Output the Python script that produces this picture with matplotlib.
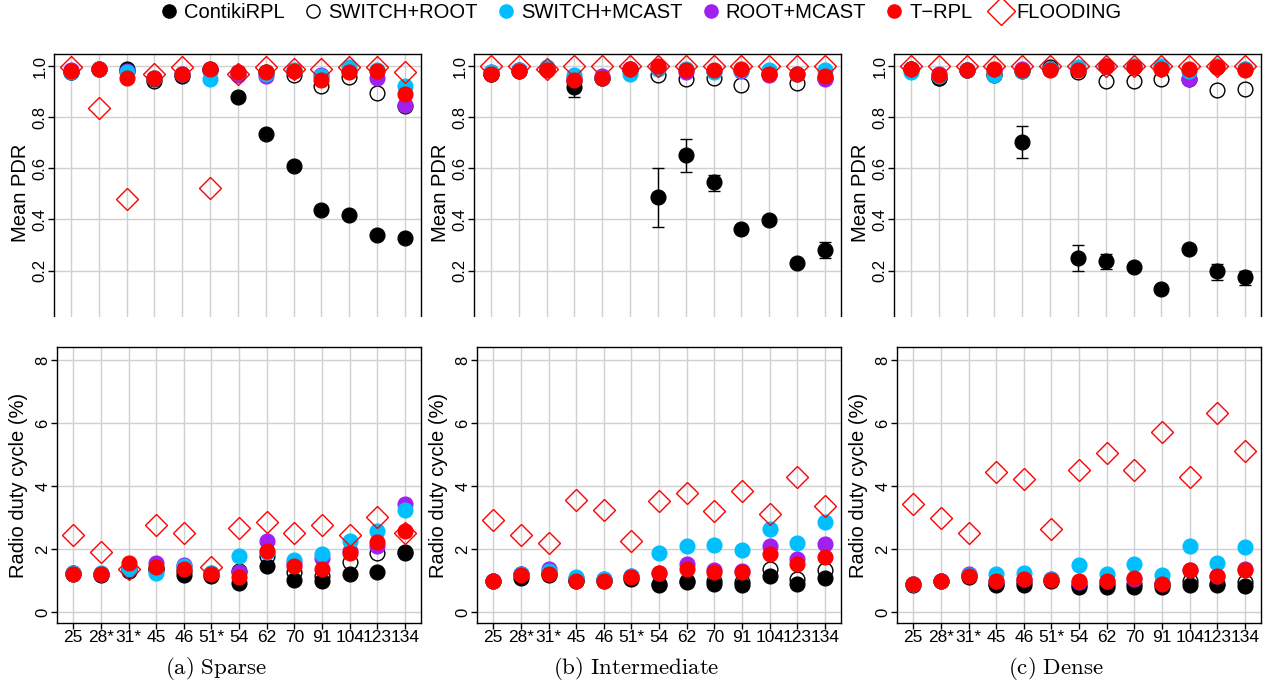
import matplotlib
matplotlib.use("Agg")
import matplotlib.pyplot as plt
from matplotlib.lines import Line2D
from matplotlib.patches import Rectangle
import numpy as np

plt.rcParams["font.family"] = ["Liberation Sans", "DejaVu Sans"]
plt.rcParams["mathtext.fontset"] = "cm"

# ---- data -------------------------------------------------------------
nodes = ["25", "28*", "31*", "45", "46", "51*", "54", "62", "70", "91", "104", "123", "134"]
series = ["ContikiRPL", "SWITCH+ROOT", "SWITCH+MCAST", "ROOT+MCAST", "T\u2212RPL", "FLOODING"]
captions = ["(a)\\ Sparse", "(b)\\ Intermediate", "(c)\\ Dense"]

pdr_sparse = {
    "ContikiRPL":   [0.978, 0.99, 0.99, 0.95, 0.965, 0.99, 0.878, 0.734, 0.609, 0.438, 0.417, 0.34, 0.327],
    "SWITCH+ROOT":  [0.975, 0.99, 0.98, 0.94, 0.96, 0.985, 0.97, 0.975, 0.965, 0.922, 0.958, 0.894, 0.845],
    "SWITCH+MCAST": [0.975, 0.99, 0.975, 0.955, 0.97, 0.948, 0.975, 0.97, 0.985, 0.96, 0.995, 0.985, 0.922],
    "ROOT+MCAST":   [0.985, 0.99, 0.98, 0.955, 0.97, 0.985, 0.965, 0.96, 0.98, 0.965, 0.98, 0.955, 0.848],
    "T\u2212RPL":   [0.98, 0.99, 0.952, 0.955, 0.97, 0.99, 0.975, 0.975, 0.98, 0.945, 0.975, 0.98, 0.889],
    "FLOODING":     [0.995, 0.837, 0.481, 0.97, 0.998, 0.522, 0.97, 0.995, 0.99, 0.99, 0.995, 0.995, 0.978],
}
pdr_inter = {
    "ContikiRPL":   [0.97, 0.98, 0.99, 0.919, 0.955, 0.99, 0.487, 0.652, 0.545, 0.362, 0.397, 0.231, 0.28],
    "SWITCH+ROOT":  [0.97, 0.985, 0.99, 0.94, 0.955, 0.985, 0.965, 0.95, 0.955, 0.925, 0.97, 0.935, 0.955],
    "SWITCH+MCAST": [0.975, 0.985, 0.995, 0.965, 0.955, 0.97, 0.99, 0.99, 0.975, 0.985, 0.985, 0.97, 0.985],
    "ROOT+MCAST":   [0.975, 0.985, 0.99, 0.955, 0.96, 0.99, 0.995, 0.975, 0.98, 0.98, 0.965, 0.97, 0.95],
    "T\u2212RPL":   [0.97, 0.98, 0.985, 0.945, 0.955, 0.99, 1.0, 0.985, 0.985, 0.99, 0.97, 0.97, 0.96],
    "FLOODING":     [1.0, 1.0, 0.99, 1.0, 1.0, 1.0, 1.0, 1.0, 1.0, 1.0, 1.0, 1.0, 1.0],
}
pdr_dense = {
    "ContikiRPL":   [0.99, 0.955, 0.985, 0.97, 0.701, 0.99, 0.249, 0.239, 0.214, 0.13, 0.286, 0.2, 0.177],
    "SWITCH+ROOT":  [0.99, 0.955, 0.985, 0.965, 0.98, 0.995, 0.975, 0.943, 0.943, 0.95, 0.95, 0.906, 0.91],
    "SWITCH+MCAST": [0.975, 0.96, 0.985, 0.965, 0.98, 0.99, 0.995, 1.0, 1.0, 1.0, 0.98, 1.0, 0.99],
    "ROOT+MCAST":   [0.99, 0.97, 0.985, 0.985, 0.99, 0.99, 0.99, 1.0, 0.995, 0.995, 0.95, 0.995, 0.99],
    "T\u2212RPL":   [0.99, 0.965, 0.985, 0.99, 0.985, 0.985, 0.985, 1.0, 0.995, 0.99, 0.99, 0.995, 0.985],
    "FLOODING":     [1.0, 1.0, 1.0, 1.0, 1.0, 1.0, 1.0, 1.0, 1.0, 1.0, 1.0, 1.0, 1.0],
}
# ContikiRPL PDR error bars (below, above)
pdr_err_sparse = ([0] * 13, [0] * 13)
pdr_err_inter = ([0, 0, 0, 0.04, 0, 0, 0.117, 0.067, 0.035, 0.01, 0.01, 0.01, 0.03],
                 [0, 0, 0, 0.04, 0, 0, 0.113, 0.063, 0.03, 0.01, 0.01, 0.01, 0.03])
pdr_err_dense = ([0, 0, 0, 0, 0.061, 0, 0.052, 0.034, 0.01, 0.005, 0.01, 0.035, 0.032],
                 [0, 0, 0, 0, 0.064, 0, 0.051, 0.026, 0.01, 0.005, 0.01, 0.025, 0.023])

duty_sparse = {
    "ContikiRPL":   [1.2, 1.17, 1.3, 1.32, 1.17, 1.15, 0.92, 1.45, 1.03, 1.0, 1.2, 1.27, 1.88],
    "SWITCH+ROOT":  [1.25, 1.2, 1.4, 1.4, 1.3, 1.2, 1.3, 1.78, 1.27, 1.13, 1.6, 1.87, 1.9],
    "SWITCH+MCAST": [1.25, 1.25, 1.35, 1.25, 1.45, 1.25, 1.77, 1.9, 1.65, 1.85, 2.25, 2.58, 3.25],
    "ROOT+MCAST":   [1.25, 1.22, 1.4, 1.57, 1.5, 1.25, 1.28, 2.25, 1.55, 1.7, 1.95, 2.1, 3.42],
    "T\u2212RPL":   [1.2, 1.2, 1.55, 1.42, 1.35, 1.22, 1.1, 1.93, 1.45, 1.38, 1.88, 2.22, 2.58],
    "FLOODING":     [2.44, 1.92, 1.38, 2.75, 2.52, 1.43, 2.67, 2.85, 2.5, 2.75, 2.45, 3.03, 2.5],
}
duty_inter = {
    "ContikiRPL":   [0.98, 1.07, 1.17, 0.98, 0.98, 1.05, 0.87, 0.95, 0.88, 0.87, 1.13, 0.88, 1.07],
    "SWITCH+ROOT":  [1.0, 1.2, 1.25, 1.03, 1.02, 1.12, 0.9, 0.97, 1.0, 0.95, 1.35, 1.05, 1.33],
    "SWITCH+MCAST": [1.0, 1.22, 1.3, 1.1, 1.05, 1.15, 1.87, 2.1, 2.13, 1.98, 2.63, 2.2, 2.85],
    "ROOT+MCAST":   [1.0, 1.2, 1.38, 1.08, 1.05, 1.13, 1.25, 1.52, 1.33, 1.3, 2.1, 1.68, 2.15],
    "T\u2212RPL":   [0.98, 1.18, 1.22, 1.0, 0.98, 1.12, 1.25, 1.35, 1.27, 1.27, 1.84, 1.53, 1.75],
    "FLOODING":     [2.93, 2.45, 2.2, 3.57, 3.25, 2.27, 3.53, 3.77, 3.2, 3.83, 3.1, 4.3, 3.37],
}
duty_dense = {
    "ContikiRPL":   [0.85, 0.97, 1.12, 0.85, 0.85, 1.0, 0.8, 0.8, 0.8, 0.8, 0.87, 0.85, 0.83],
    "SWITCH+ROOT":  [0.88, 0.98, 1.18, 0.9, 0.95, 1.03, 0.87, 0.88, 0.9, 0.88, 0.98, 0.88, 0.95],
    "SWITCH+MCAST": [0.88, 1.0, 1.18, 1.22, 1.23, 1.05, 1.48, 1.22, 1.52, 1.17, 2.1, 1.55, 2.05],
    "ROOT+MCAST":   [0.88, 1.0, 1.2, 1.0, 1.05, 1.05, 0.95, 0.97, 1.05, 0.92, 1.33, 1.15, 1.38],
    "T\u2212RPL":   [0.88, 0.98, 1.15, 1.0, 1.05, 1.03, 0.98, 0.97, 1.08, 0.9, 1.32, 1.13, 1.33],
    "FLOODING":     [3.43, 3.0, 2.5, 4.45, 4.22, 2.62, 4.52, 5.05, 4.5, 5.73, 4.3, 6.32, 5.12],
}

# ---- styles -----------------------------------------------------------
styles = {
    "ContikiRPL":   dict(marker="o", ms=10.6, mfc="black", mec="black", mew=1.0),
    "SWITCH+ROOT":  dict(marker="o", ms=10.6, mfc="none", mec="black", mew=1.0),
    "SWITCH+MCAST": dict(marker="o", ms=10.6, mfc="#00BFFF", mec="#00BFFF", mew=1.0),
    "ROOT+MCAST":   dict(marker="o", ms=10.6, mfc="#A020F0", mec="#A020F0", mew=1.0),
    "T\u2212RPL":   dict(marker="o", ms=10.6, mfc="#FF0000", mec="#FF0000", mew=1.0),
    "FLOODING":     dict(marker="D", ms=11.2, mfc="none", mec="#FF0000", mew=1.0),
}
draw_order = ["SWITCH+ROOT", "ContikiRPL", "ROOT+MCAST", "SWITCH+MCAST", "T\u2212RPL", "FLOODING"]

W, H = 1271, 690
fig = plt.figure(figsize=(W / 100, H / 100), dpi=100)

x = np.arange(len(nodes))


def frac(left, top, right, bottom):
    return [left / W, 1 - bottom / H, (right - left) / W, (bottom - top) / H]


def style_axes(ax):
    ax.grid(color="#d0d0d0", linewidth=1.0)
    ax.set_axisbelow(True)
    for s in ax.spines.values():
        s.set_linewidth(1.0)
    ax.tick_params(axis="y", direction="out", length=4.3, width=1, labelsize=12,
                   labelrotation=90, pad=0.5)
    for lbl in ax.get_yticklabels():
        lbl.set_va("center")


def draw_points(ax, values, err=None):
    if err is not None:
        ax.errorbar(x, values["ContikiRPL"], yerr=[err[0], err[1]], fmt="none",
                    ecolor="black", elinewidth=1.0, capsize=4, capthick=1.0, zorder=2)
    for i, name in enumerate(draw_order):
        ax.plot(x, values[name], linestyle="none", zorder=3 + i, clip_on=False,
                **styles[name])


pdr_panels = [(pdr_sparse, pdr_err_sparse), (pdr_inter, pdr_err_inter), (pdr_dense, pdr_err_dense)]
duty_panels = [duty_sparse, duty_inter, duty_dense]
top_lefts = [54, 474, 894]
bot_lefts = [57, 477, 897]
rights = [421, 841, 1261]
cap_x = [216, 636, 1056]

for k in range(3):
    # PDR row (bottom edge trimmed as in the paper figure)
    ax = fig.add_axes(frac(top_lefts[k], 54, rights[k], 332))
    vals, err = pdr_panels[k]
    draw_points(ax, vals, err)
    ax.set_xlim(-0.61, 12.575)
    ax.set_ylim(-0.04, 1.047)
    ax.set_xticks(x)
    ax.set_xticklabels([])
    ax.tick_params(axis="x", length=0)
    ax.set_yticks([0, 0.2, 0.4, 0.6, 0.8, 1.0])
    ax.set_yticklabels(["0", "0.2", "0.4", "0.6", "0.8", "1.0"])
    ax.set_ylabel("Mean PDR", fontsize=14.5)
    ax.yaxis.set_label_coords(-24 / (rights[k] - top_lefts[k]), 0.5)
    style_axes(ax)

    # duty cycle row
    ax = fig.add_axes(frac(bot_lefts[k], 347, rights[k], 623))
    draw_points(ax, duty_panels[k])
    ax.set_xlim(-0.59, 12.58)
    ax.set_ylim(-0.349, 8.413)
    ax.set_xticks(x)
    ax.set_xticklabels(nodes, fontsize=12.5)
    ax.tick_params(axis="x", direction="out", length=4.3, width=1, pad=0.5)
    ax.set_yticks([0, 2, 4, 6, 8])
    ax.set_ylabel("Radio duty cycle (%)", fontsize=14.5)
    ax.yaxis.set_label_coords(-29 / (rights[k] - bot_lefts[k]), 0.5)
    style_axes(ax)

    fig.text(cap_x[k] / W, 1 - 669 / H, "$\\mathrm{" + captions[k] + "}$",
             ha="center", va="center", fontsize=16.5)

# white band that trims the bottom of the PDR panels
fig.patches.append(Rectangle((0, 1 - 345 / H), 1, 28 / H, transform=fig.transFigure,
                             facecolor="white", edgecolor="none", zorder=20))

handles = [Line2D([], [], linestyle="none", **styles[n]) for n in series]
for h, n in zip(handles, series):
    if n == "FLOODING":
        h.set_markersize(14)
    else:
        h.set_markersize(9.5)
fig.legend(handles, series, loc="center", bbox_to_anchor=(640 / W, 1 - 13 / H), ncol=6,
           frameon=False, fontsize=14.5, handletextpad=0.25, columnspacing=0.9,
           handlelength=1.0, borderaxespad=0)

fig.savefig("out.png", dpi=100)
